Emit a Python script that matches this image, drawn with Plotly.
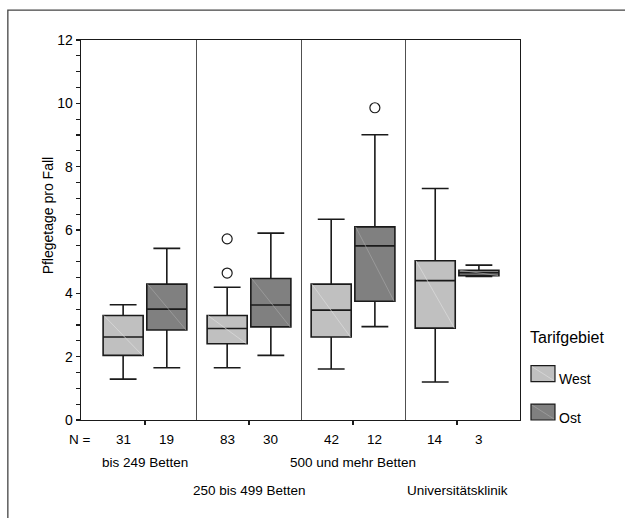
import plotly.graph_objects as go

# ---------------- data ----------------
categories = ["bis 249 Betten", "250 bis 499 Betten", "500 und mehr Betten", "Universitätsklinik"]
cat_row = [0, 1, 0, 1]  # staggered label rows

west_n = [31, 83, 42, 14]
ost_n = [19, 30, 12, 3]

west_lo = [1.29, 1.65, 1.61, 1.20]
west_q1 = [2.04, 2.41, 2.62, 2.90]
west_med = [2.62, 2.89, 3.47, 4.40]
west_q3 = [3.30, 3.30, 4.29, 5.03]
west_hi = [3.64, 4.19, 6.34, 7.31]

ost_lo = [1.65, 2.04, 2.95, 4.53]
ost_q1 = [2.84, 2.94, 3.75, 4.56]
ost_med = [3.50, 3.63, 5.50, 4.65]
ost_q3 = [4.29, 4.47, 6.10, 4.73]
ost_hi = [5.42, 5.90, 9.01, 4.89]

west_out_cat = [1, 1]
west_out_val = [4.64, 5.72]
ost_out_cat = [2]
ost_out_val = [9.86]

series_names = ["West", "Ost"]
y_ticks = [0, 2, 4, 6, 8, 10, 12]

# ---------------- style ----------------
FONT = "Liberation Sans, Arial, sans-serif"
WEST_FILL = "#c0c0c0"
OST_FILL = "#808080"
WEST_HATCH = "#dcdcdc"
OST_HATCH = "#a4a4a4"
LINE = "#1a1a1a"
OFFSET = 0.21
BOX_W = 0.385

idx = list(range(len(categories)))
west_x = [i - OFFSET for i in idx]
ost_x = [i + OFFSET for i in idx]

fig = go.Figure()

series = [
    ("West", west_x, west_lo, west_q1, west_med, west_q3, west_hi, WEST_FILL, WEST_HATCH),
    ("Ost", ost_x, ost_lo, ost_q1, ost_med, ost_q3, ost_hi, OST_FILL, OST_HATCH),
]

for name, xs, lo, q1, med, q3, hi, fill, hatch in series:
    fig.add_trace(go.Box(
        name=name, x=xs, q1=q1, median=med, q3=q3,
        lowerfence=lo, upperfence=hi,
        width=BOX_W, whiskerwidth=0.67,
        fillcolor=fill, line=dict(color=LINE, width=1.6),
        boxpoints=False, showlegend=False, hoverinfo="skip",
    ))

# faint diagonal hatch line across each box (top-left to bottom-right)
for name, xs, lo, q1, med, q3, hi, fill, hatch in series:
    hx, hy = [], []
    for x, a, b in zip(xs, q3, q1):
        hx += [x - BOX_W / 2 * 0.96, x + BOX_W / 2 * 0.96, None]
        hy += [a, b, None]
    fig.add_trace(go.Scatter(x=hx, y=hy, mode="lines",
                             line=dict(color=hatch, width=0.7),
                             showlegend=False, hoverinfo="skip"))

fig.add_trace(go.Scatter(
    x=[c - OFFSET for c in west_out_cat], y=west_out_val, mode="markers",
    marker=dict(symbol="circle-open", size=10, color=LINE, line=dict(width=1.2)),
    showlegend=False, hoverinfo="skip"))
fig.add_trace(go.Scatter(
    x=[c + OFFSET for c in ost_out_cat], y=ost_out_val, mode="markers",
    marker=dict(symbol="circle-open", size=10, color=LINE, line=dict(width=1.2)),
    showlegend=False, hoverinfo="skip"))

# ---------------- layout ----------------
L, R, T, B = 80.7, 105, 39.5, 97.5
W, H = 625, 518
pw = W - L - R
ph = H - T - B


def px_x(px):
    return (px - L) / pw


def px_y(py):
    return (H - B - py) / ph


TXT = dict(size=13.5, family=FONT, color="black")

annotations = []
# N row
annotations.append(dict(text="N =", xref="paper", yref="paper", x=px_x(80), y=px_y(440),
                        showarrow=False, xanchor="center", yanchor="middle", font=TXT))
for xs, ns in [(west_x, west_n), (ost_x, ost_n)]:
    for x, n in zip(xs, ns):
        annotations.append(dict(text=str(n), xref="x", yref="paper", x=x, y=px_y(440),
                                showarrow=False, xanchor="center", yanchor="middle", font=TXT))
# category labels
for i, (c, r) in enumerate(zip(categories, cat_row)):
    annotations.append(dict(text=c, xref="x", yref="paper", x=i,
                            y=px_y(463 if r == 0 else 491),
                            showarrow=False, xanchor="center", yanchor="middle", font=TXT))
# y title
annotations.append(dict(text="Pflegetage pro Fall", xref="paper", yref="paper",
                        x=px_x(48), y=px_y(215), textangle=-90, showarrow=False,
                        xanchor="center", yanchor="middle",
                        font=dict(size=14, family=FONT, color="black")))
# legend
annotations.append(dict(text="Tarifgebiet", xref="paper", yref="paper",
                        x=px_x(528), y=px_y(338), showarrow=False,
                        xanchor="left", yanchor="middle",
                        font=dict(size=16, family=FONT, color="black")))
shapes = []
for name, fill, hatch, top, ty in [("West", WEST_FILL, WEST_HATCH, 366, 379),
                                   ("Ost", OST_FILL, OST_HATCH, 404.5, 418.5)]:
    shapes.append(dict(type="rect", xref="paper", yref="paper",
                       x0=px_x(531), x1=px_x(555), y0=px_y(top + 16), y1=px_y(top),
                       fillcolor=fill, line=dict(color=LINE, width=1.2)))
    shapes.append(dict(type="line", xref="paper", yref="paper",
                       x0=px_x(532), x1=px_x(554), y0=px_y(top + 1), y1=px_y(top + 15),
                       line=dict(color=hatch, width=0.7)))
    annotations.append(dict(text=name, xref="paper", yref="paper",
                            x=px_x(557), y=px_y(ty), showarrow=False,
                            xanchor="left", yanchor="middle",
                            font=dict(size=14, family=FONT, color="black")))
# outer frame (extends past right/bottom edges)
shapes.append(dict(type="rect", xref="paper", yref="paper",
                   x0=px_x(7.5), x1=px_x(W + 20), y0=px_y(H + 20), y1=px_y(9.5),
                   line=dict(color="#444444", width=1.3), fillcolor="rgba(0,0,0,0)",
                   layer="below"))

fig.update_layout(
    width=W, height=H,
    margin=dict(l=L, r=R, t=T, b=B, pad=0),
    paper_bgcolor="white", plot_bgcolor="white",
    boxmode="overlay",
    showlegend=False,
    font=dict(family=FONT, size=14, color="black"),
    annotations=annotations,
    shapes=shapes,
    xaxis=dict(
        range=[-0.615, 3.605], tickvals=idx, ticktext=["" for _ in idx],
        ticks="outside", ticklen=4, tickcolor=LINE, tickwidth=1.2,
        showgrid=False, zeroline=False,
        showline=True, linecolor=LINE, linewidth=1.4, mirror=True,
        minor=dict(tickvals=[i + 0.5 for i in idx[:-1]], showgrid=True,
                   gridcolor="#505050", gridwidth=1, ticks=""),
    ),
    yaxis=dict(
        range=[0, 12], tickvals=y_ticks, ticks="outside", ticklen=4,
        tickcolor=LINE, tickwidth=1.2,
        tickfont=dict(size=14, family=FONT, color="black"),
        showgrid=False, zeroline=False,
        showline=True, linecolor=LINE, linewidth=1.4, mirror=True,
        minor=dict(dtick=0.5, ticks="outside", ticklen=4, tickcolor=LINE, tickwidth=1.2,
                   showgrid=False),
    ),
)

fig.write_html(
    "out.html",
    config={"displayModeBar": False, "staticPlot": True},
    post_script="document.body.style.margin='0px';document.body.style.overflow='hidden';",
)
